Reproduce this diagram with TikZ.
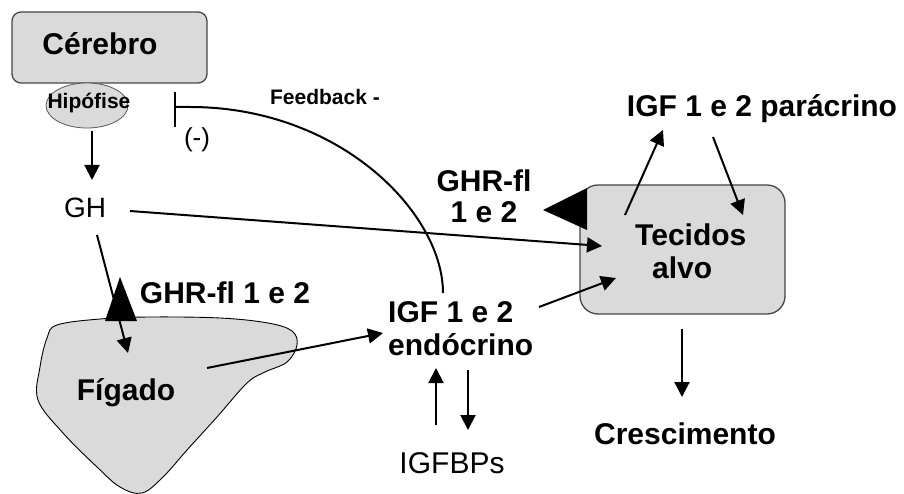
\documentclass[tikz,border=0pt]{standalone}
\usepackage{fontspec}
\setmainfont{Liberation Sans}
\usetikzlibrary{arrows.meta,shapes.geometric,calc}
\definecolor{boxfill}{RGB}{218,218,218}
\definecolor{boxline}{RGB}{70,70,70}
\newcommand\twolines[3]{\begin{tabular}[t]{@{}#1@{}}#2\\#3\end{tabular}}
\begin{document}
\begin{tikzpicture}[x=1pt,y=-1pt,
  txt/.style={inner sep=0pt, anchor=base},
  big/.style={font=\bfseries\fontsize{30}{33}\selectfont},
  arr/.style={line width=2pt, -{Triangle[length=15pt,width=15pt]}},
  organ/.style={fill=boxfill, draw=boxline, line width=1.3pt, rounded corners=9pt}
]
\useasboundingbox (0,0) rectangle (904,494);

% Cerebro and hipofise
\node[organ, minimum width=195pt, minimum height=71pt] (cer) at (109.5,47.5) {};
\node[txt,big] (cert) at (100,55) {Cérebro};
\node[ellipse, fill=boxfill, draw=gray!70!black, line width=0.8pt, minimum width=82pt, minimum height=45pt, inner sep=0pt] (hip) at (87,105.5) {};
\node[txt, font=\bfseries\fontsize{21}{24}\selectfont] (hipt) at (89,109) {Hipófise};
\node[txt, font=\fontsize{28}{32}\selectfont] (gh) at (85,218) {GH};
\node[txt, font=\bfseries\fontsize{21}{24}\selectfont] (fbt) at (325,105) {Feedback -};
\node[txt, font=\fontsize{26}{30}\selectfont] (minus) at (197,147) {(-)};

% Figado
\draw[fill=boxfill, draw=black, line width=0.9pt] plot[smooth cycle, tension=0.6] coordinates {
 (57,325) (100,319) (150,317) (220,318) (268,323) (292,331) (297,345) (287,362)
 (265,372) (247,383) (217,417) (187,450) (163,477) (142,493) (120,487) (97,467)
 (63,433) (38,400) (40,367) (47,338)};
\node[txt,big] (fig) at (126,400) {Fígado};

% Tecidos alvo
\node[organ, rounded corners=18pt, minimum width=205pt, minimum height=129pt] (tec) at (682.5,249.5) {};
\node[txt,big,anchor=base west] (tect) at (635,245) {\twolines{l}{Tecidos}{\hspace{17pt}alvo}};

% other labels
\node[txt,big] (ghr1) at (225,303) {GHR-fl 1 e 2};
\node[txt, font=\bfseries\fontsize{30}{31}\selectfont] (ghr2) at (484,192) {\twolines{c}{GHR-fl}{1 e 2}};
\node[txt,big,anchor=base west] (igf) at (388,322) {\twolines{l}{IGF 1 e 2}{endócrino}};
\node[txt, font=\fontsize{30}{33}\selectfont] (bp) at (452,473) {IGFBPs};
\node[txt,big] (para) at (762,117) {IGF 1 e 2 parácrino};
\node[txt,big] (cres) at (685,444) {Crescimento};

% arrows
\draw[arr] ($(hip)+(5,25.5)$) -- ($(gh.base)+(7,-38)$);
\draw[arr] ($(gh.base)+(45,-7)$) -- ($(tec)+(-80.5,-3.5)$);
\draw[arr] ($(gh.base)+(12,17)$) -- ($(fig.base)+(2,-47)$);
\draw[arr] ($(fig.base)+(81,-32)$) -- ($(igf.base west)+(-5,11)$);
\draw[arr] ($(bp.base)+(-16,-48)$) -- ($(igf.base west)+(48,46)$);
\draw[arr] ($(igf.base west)+(80,48)$) -- ($(bp.base)+(16,-43)$);
\draw[arr] ($(igf.base west)+(151,-15)$) -- ($(tec)+(-66.5,28.5)$);
\draw[arr] ($(tec)+(-57.5,-34.5)$) -- ($(para.base)+(-99,13)$);
\draw[arr] ($(para.base)+(-49,20)$) -- ($(tec)+(60.5,-34.5)$);
\draw[arr] ($(tec)+(-0.5,79.5)$) -- ($(cres.base)+(-3,-47)$);

% receptors
\fill (120,277) -- (105,321) -- (137,321) -- cycle;
\fill (543,210) -- (587,188) -- (587,230) -- cycle;

% feedback
\coordinate (fb) at (175,107);
\draw[line width=2.5pt] ($(fb)+(0,-15)$) -- ($(fb)+(0,20)$);
\draw[line width=2pt] (fb) -- ++(15,0) .. controls (340,107) and ($(igf.base west)+(55,-109)$) .. ($(igf.base west)+(55,-29)$);
\end{tikzpicture}
\end{document}
